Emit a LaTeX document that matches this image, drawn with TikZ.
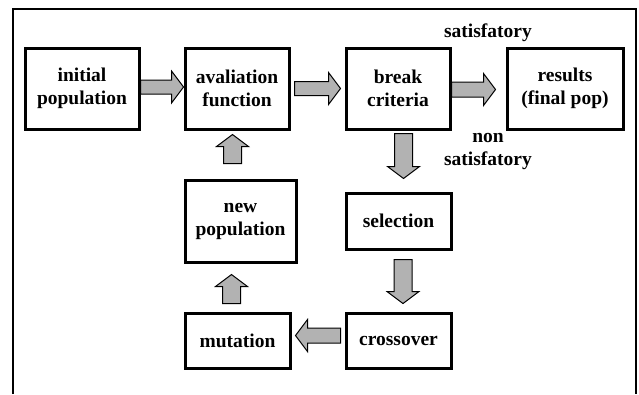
\documentclass[tikz,border=0pt]{standalone}
\usepackage{fontspec}
\setmainfont{Liberation Serif}
\usetikzlibrary{calc}

\tikzset{
	blk/.style={draw,line width=3pt,align=center,inner sep=0pt,font=\bfseries\fontsize{19.5}{23}\selectfont},
	lbl/.style={align=center,inner sep=0pt,font=\bfseries\fontsize{19.5}{23}\selectfont},
	fat/.style={draw,fill=gray!60,line width=1pt,line join=miter,to path={
		let \p1=(\tikztostart), \p2=(\tikztotarget), \n1={veclen(\x2-\x1,\y2-\y1)},
		\n2={(\x2-\x1)/\n1}, \n3={(\y2-\y1)/\n1} in
		({\x1-#1pt*\n3},{\y1+#1pt*\n2})
		-- ({\x2-12pt*\n2-#1pt*\n3},{\y2-12pt*\n3+#1pt*\n2})
		-- ({\x2-12pt*\n2-16pt*\n3},{\y2-12pt*\n3+16pt*\n2})
		-- (\p2)
		-- ({\x2-12pt*\n2+16pt*\n3},{\y2-12pt*\n3-16pt*\n2})
		-- ({\x2-12pt*\n2+#1pt*\n3},{\y2-12pt*\n3-#1pt*\n2})
		-- ({\x1+#1pt*\n3},{\y1-#1pt*\n2}) -- cycle
	}},
}

\begin{document}
\begin{tikzpicture}[x=1pt,y=1pt]
		\useasboundingbox (0,0) rectangle (639,-394);
		\draw[line width=1.3pt] (13,-394) -- (13,-9) -- (636,-9) -- (636,-394);

		\node[blk,minimum width=114pt,minimum height=81pt] (init) at (82,-88.5) {initial\\population};
		\node[blk,minimum width=104pt,minimum height=81pt] (aval) at (237,-88.5) {avaliation\\function};
		\node[blk,minimum width=104pt,minimum height=81pt] (break) at (398,-88.5) {break\\criteria};
		\node[blk,minimum width=116pt,minimum height=81pt] (res) at (565,-88.5) {results\\(final pop)};
		\node[blk,minimum width=105pt,minimum height=56pt] (sel) at (398.5,-221) {selection};
		\node[blk,minimum width=111pt,minimum height=82pt] (newpop) at (240.5,-221) {new\\population};
		\node[blk,minimum width=105pt,minimum height=55pt] (mut) at (237.5,-340.5) {mutation};
		\node[blk,minimum width=105pt,minimum height=55pt] (cross) at (398.5,-340.5) {crossover};

		\node[lbl] (sat) at (488,-33) {satisfatory};
		\node[lbl] (nonsat) at (488,-151.5) {non\\satisfatory};

		\path[fat=7] ([yshift=1.5pt]init.east) to ([yshift=1.5pt]aval.west)
			([xshift=4pt]aval.east) to ([xshift=-4pt]break.west);
		\path[fat=7.5] ([yshift=-1pt]break.east) to ([yshift=-1pt,xshift=-10pt]res.west);
		\path[fat=7.5] ([xshift=-4pt,yshift=5pt]cross.west) to ([xshift=4pt,yshift=5pt]mut.east);
		\path[fat=9]
			([xshift=5.5pt,yshift=-3pt]break.south) to ([xshift=5pt,yshift=13pt]sel.north)
			([xshift=4.5pt,yshift=-9pt]sel.south) to ([xshift=4.5pt,yshift=8pt]cross.north)
			([xshift=-6pt,yshift=8pt]mut.north) to ([xshift=-9pt,yshift=-11pt]newpop.south)
			([xshift=-8pt,yshift=15pt]newpop.north) to ([xshift=-4.5pt,yshift=-4pt]aval.south);
	\end{tikzpicture}
\end{document}
